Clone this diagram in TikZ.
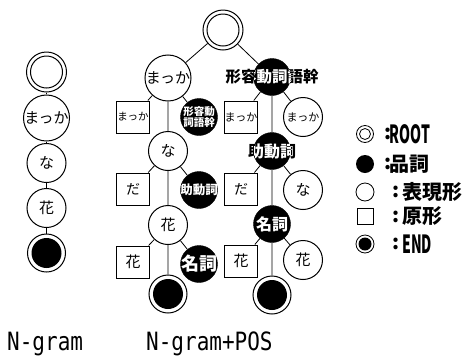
\documentclass[tikz,border=0pt]{standalone}
\usepackage{fontspec}
\newfontfamily\jp{Noto Sans CJK JP}
\newfontfamily\mono{DejaVu Sans Mono}
\newcommand\fs[1]{\fontsize{#1}{#1}\selectfont}
% black word node: text black outside the disc, white inside it
\newcommand\blabel[3]{%
  \node[font=#2,text=black,align=center] at (#1) {#3};
  \begin{scope}
    \clip (#1.center) circle (18.5pt);
    \node[font=#2,text=white,align=center] at (#1) {#3};
  \end{scope}}
\tikzset{
  wc/.style={circle,draw,line width=1pt,fill=white,minimum size=39pt,inner sep=0pt,font=\jp\fs{15}},
  bc/.style={circle,draw=black,fill=black,minimum size=37pt,inner sep=0pt},
  bx/.style={rectangle,draw,line width=1pt,fill=white,minimum width=33pt,minimum height=32pt,inner sep=0pt,font=\jp\fs{14}},
  rootn/.style={circle,draw,line width=1pt,fill=white,minimum size=40pt,inner sep=0pt,
    path picture={\draw[line width=1pt] (path picture bounding box.center) circle (16pt);}},
  endn/.style={circle,draw,line width=1pt,fill=white,minimum size=38pt,inner sep=0pt,
    path picture={\fill[black] (path picture bounding box.center) circle (15pt);}},
  link/.style={line width=0.8pt},
  legtext/.style={anchor=west,inner sep=0pt,font=\jp\bfseries\fs{20}},
}
\begin{document}
\begin{tikzpicture}[x=1pt,y=-1pt]
\useasboundingbox (0,0) rectangle (472,360);

% N-gram chain
\node[rootn] (l0) at (46.5,72) {};
\node[wc] (l1) at (46.5,118) {まっか};
\node[wc] (l2) at (46.5,163) {な};
\node[wc] (l3) at (46.5,208) {花};
\node[endn] (l4) at (46.5,253) {};
\draw[link] (l0)--(l1) (l1)--(l2) (l2)--(l3) (l3)--(l4);

% N-gram+POS tree
\node[rootn] (r) at (223,30) {};
\node[wc] (m1) at (168,78) {まっか};
\node[bx,font=\jp\fs{10.5}] (m1a) at (133,117) {まっか};
\node[bc] (m1b) at (199,117) {};
\node[wc] (m2) at (168,151) {な};
\node[bx] (m2a) at (133,189) {だ};
\node[bc] (m2b) at (199,190) {};
\node[wc] (m3) at (168,225) {花};
\node[bx,font=\jp\fs{15}] (m3a) at (133,262) {花};
\node[bc] (m3b) at (199,264) {};
\node[endn] (m4) at (168,294) {};

\node[bc] (p1) at (272,77) {};
\node[bx,font=\jp\fs{11}] (p1a) at (241,117) {まっか};
\node[wc,font=\jp\fs{11}] (p1b) at (303,117) {まっか};
\node[bc] (p2) at (272,151) {};
\node[bx] (p2a) at (241,189) {だ};
\node[wc] (p2b) at (303,190) {な};
\node[bc] (p3) at (272,224) {};
\node[bx,font=\jp\fs{15}] (p3a) at (241,261) {花};
\node[wc] (p3b) at (303,260) {花};
\node[endn] (p4) at (272,295) {};

\draw[link] (r)--(m1) (r)--(p1);
\draw[link] (m1)--(m1a) (m1)--(m1b) (m1)--(m2);
\draw[link] (m2)--(m2a) (m2)--(m2b) (m2)--(m3);
\draw[link] (m3)--(m3a) (m3)--(m3b) (m3)--(m4);
\draw[link] (p1)--(p1a) (p1)--(p1b) (p1)--(p2);
\draw[link] (p2)--(p2a) (p2)--(p2b) (p2)--(p3);
\draw[link] (p3)--(p3a) (p3)--(p3b) (p3)--(p4);

\blabel{m1b}{\jp\bfseries\fontsize{10.5}{12}\selectfont}{形容動\\[-1pt]詞語幹}
\blabel{m2b}{\jp\bfseries\fs{12.5}}{助動詞}
\blabel{m3b}{\jp\bfseries\fs{18}}{名詞}
\blabel{p1}{\jp\bfseries\fs{15.5}}{形容動詞語幹}
\blabel{p2}{\jp\bfseries\fs{16}}{助動詞}
\blabel{p3}{\jp\bfseries\fs{16}}{名詞}

% legend
\node[circle,draw,line width=0.8pt,minimum size=17pt,inner sep=0pt,
  path picture={\draw[line width=0.8pt] (path picture bounding box.center) circle (5.5pt);}] (k1) at (365,134) {};
\node[circle,fill=black,minimum size=18pt,inner sep=0pt] (k2) at (365,164) {};
\node[circle,draw,line width=0.8pt,minimum size=18pt,inner sep=0pt] (k3) at (365,192) {};
\node[rectangle,draw,line width=0.8pt,minimum size=16pt,inner sep=0pt] (k4) at (365,216.5) {};
\node[circle,draw,line width=0.8pt,minimum size=18pt,inner sep=0pt,
  path picture={\fill[black] (path picture bounding box.center) circle (6.5pt);}] (k5) at (365,244) {};

\node[legtext] (c1) at (384,134) {:};
\node[legtext] (t1) at (389.5,134) {\scalebox{0.56}[1]{\fs{25}ROOT}};
\node[legtext] (c2) at (384,164) {:};
\node[legtext] (t2) at (389.5,164) {品詞};
\node[legtext] (c3) at (392.5,192) {:};
\node[legtext] (t3) at (402,192) {表現形};
\node[legtext] (c4) at (392.5,216.5) {:};
\node[legtext] (t4) at (402,216.5) {原形};
\node[legtext] (c5) at (392.5,244) {:};
\node[legtext] (t5) at (402,244) {\scalebox{0.56}[1]{\fs{25}END}};

% captions
\node[anchor=base west,inner sep=0pt,font=\mono\fs{21}] (cap1) at (7,350) {\scalebox{1}[1.2]{N-gram}};
\node[anchor=base west,inner sep=0pt,font=\mono\fs{21}] (cap2) at (146,350) {\scalebox{1}[1.2]{N-gram+POS}};
\end{tikzpicture}
\end{document}
